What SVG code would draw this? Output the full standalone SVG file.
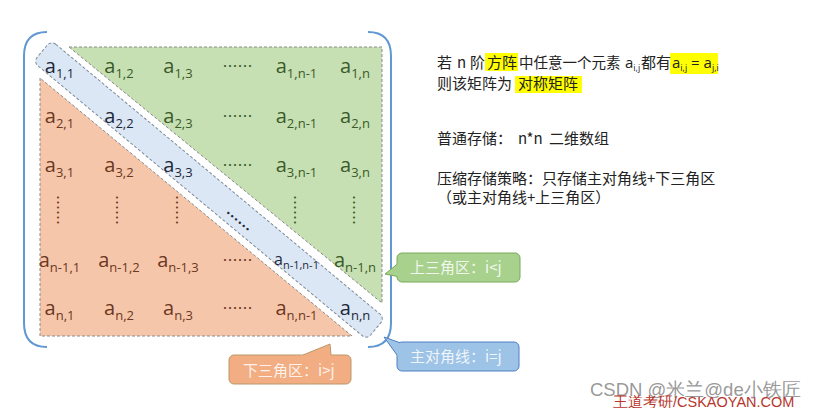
<svg xmlns="http://www.w3.org/2000/svg" width="815" height="408" viewBox="0 0 815 408">
<defs>
<style>
.m{font-family:"Open Sans","Noto Sans",sans-serif;font-size:20px;text-anchor:middle}
.s{font-size:13px}
.ms{font-size:16px}
.ss{font-size:11px}
.g{fill:#3b5a27}
.o{fill:#6b3822}
.b{fill:#1e2838}
.dots{font-family:"Noto Sans CJK SC",sans-serif;font-size:15px;text-anchor:middle}
.cn{font-family:"Noto Sans CJK SC",sans-serif;font-size:15px;fill:#222}
.la{font-family:"Open Sans","Noto Sans",sans-serif;font-size:15px;fill:#222}
.sub{font-size:9px}
.hl{fill:#ffff00}
.call{font-family:"Noto Sans CJK SC",sans-serif;font-size:15px;fill:#ffffff;fill-opacity:0.85}
.tri{stroke:#8a8a8a;stroke-width:1;stroke-dasharray:3 2}
.brk{fill:none;stroke:#5f98d2;stroke-width:2}
</style>
</defs>
<rect x="0" y="0" width="815" height="408" fill="#ffffff"/>

<g id="bracket-left"><path class="brk" d="M47,32 Q24,32 24,56 L24,323 Q24,347 47,347"/></g>
<g id="bracket-right"><path class="brk" d="M368,32 Q391,32 391,56 L391,323 Q391,347 368,347"/></g>

<g id="upper-triangle">
<polygon class="tri" points="69,47 382,47 382,303" fill="#c6e0b4"/>
<text class="m g" x="119" y="73">a<tspan class="s" dy="5">1,2</tspan></text>
<text class="m g" x="178" y="73">a<tspan class="s" dy="5">1,3</tspan></text>
<text class="dots g" x="237.5" y="71.7">……</text>
<text class="m g" x="296.5" y="73">a<tspan class="s" dy="5">1,n-1</tspan></text>
<text class="m g" x="355" y="73">a<tspan class="s" dy="5">1,n</tspan></text>
<text class="m g" x="178" y="123">a<tspan class="s" dy="5">2,3</tspan></text>
<text class="dots g" x="237.5" y="121.7">……</text>
<text class="m g" x="296.5" y="123">a<tspan class="s" dy="5">2,n-1</tspan></text>
<text class="m g" x="355" y="123">a<tspan class="s" dy="5">2,n</tspan></text>
<text class="dots g" x="237.5" y="170.7">……</text>
<text class="m g" x="296.5" y="172">a<tspan class="s" dy="5">3,n-1</tspan></text>
<text class="m g" x="355" y="172">a<tspan class="s" dy="5">3,n</tspan></text>
<text class="dots g" transform="translate(295,210) rotate(90)" x="0" y="5.7">……</text>
<text class="dots g" transform="translate(354,210) rotate(90)" x="0" y="5.7">……</text>
<text class="m g" x="355" y="267">a<tspan class="s" dy="5">n-1,n</tspan></text>
</g>

<g id="lower-triangle">
<polygon class="tri" points="40,78 40,336 352,336" fill="#f6c6aa"/>
<text class="m o" x="59.5" y="123">a<tspan class="s" dy="5">2,1</tspan></text>
<text class="m o" x="59.5" y="172">a<tspan class="s" dy="5">3,1</tspan></text>
<text class="m o" x="119" y="172">a<tspan class="s" dy="5">3,2</tspan></text>
<text class="dots o" transform="translate(58,210) rotate(90)" x="0" y="5.7">……</text>
<text class="dots o" transform="translate(117,210) rotate(90)" x="0" y="5.7">……</text>
<text class="dots o" transform="translate(177,210) rotate(90)" x="0" y="5.7">……</text>
<text class="m o" x="59.5" y="267">a<tspan class="s" dy="5">n-1,1</tspan></text>
<text class="m o" x="119" y="267">a<tspan class="s" dy="5">n-1,2</tspan></text>
<text class="m o" x="178" y="267">a<tspan class="s" dy="5">n-1,3</tspan></text>
<text class="dots o" x="237.5" y="265.7">……</text>
<text class="m o" x="59.5" y="315">a<tspan class="s" dy="5">n,1</tspan></text>
<text class="m o" x="119" y="315">a<tspan class="s" dy="5">n,2</tspan></text>
<text class="m o" x="178" y="315">a<tspan class="s" dy="5">n,3</tspan></text>
<text class="dots o" x="237.5" y="313.7">……</text>
<text class="m o" x="296.5" y="315">a<tspan class="s" dy="5">n,n-1</tspan></text>
</g>

<g id="main-diagonal">
<rect x="-217" y="-14" width="434" height="28" rx="6" transform="translate(209,190) rotate(39.77)" fill="#dbe7f4" stroke="#7c8a9c" stroke-width="1" stroke-dasharray="3 2"/>
<text class="m b" x="59.5" y="73">a<tspan class="s" dy="5">1,1</tspan></text>
<text class="m b" x="119" y="123">a<tspan class="s" dy="5">2,2</tspan></text>
<text class="m b" x="178" y="172">a<tspan class="s" dy="5">3,3</tspan></text>
<text class="dots b" font-weight="bold" transform="translate(238,221) rotate(39.77)" x="0" y="5.7">……</text>
<text class="m b ms" x="296.5" y="265">a<tspan class="ss" dy="4">n-1,n-1</tspan></text>
<text class="m b" x="355" y="315">a<tspan class="s" dy="5">n,n</tspan></text>
</g>

<g id="definition">
<rect class="hl" x="485" y="53" width="33" height="18"/>
<rect class="hl" x="670" y="53" width="48" height="21"/>
<rect class="hl" x="515" y="76" width="67" height="17"/>
<text class="cn" y="68"><tspan x="437">若</tspan><tspan x="457">n</tspan><tspan x="470">阶</tspan><tspan x="487">方阵</tspan><tspan x="519" font-size="14.5">中任意一个元素</tspan></text>
<text class="la" x="625" y="68">a<tspan class="sub" dy="3">i,j</tspan></text>
<text class="cn" x="641" y="68" font-size="14.5">都有</text>
<text class="la" x="672" y="68">a<tspan class="sub" dy="3">i,j</tspan><tspan dy="-3"> = a</tspan><tspan class="sub" dy="3">j,i</tspan></text>
<text class="cn" y="89"><tspan x="437">则该矩阵为</tspan><tspan x="518">对称矩阵</tspan></text>
</g>

<g id="storage-notes">
<text class="cn" y="144"><tspan x="437">普通存储：</tspan><tspan x="518">n*n</tspan><tspan x="549">二维数组</tspan></text>
<text class="cn" x="437" y="184">压缩存储策略：只存储主对角线+下三角区</text>
<text class="cn" x="437" y="203">（或主对角线+上三角区）</text>
</g>

<g id="callout-upper">
<rect x="397" y="253" width="123" height="29" rx="5" fill="#a9d18e" stroke="#7aa95a" stroke-width="1"/>
<text class="call" x="410" y="273">上三角区：i&lt;j</text>
</g>
<g id="callout-diagonal">
<rect x="397" y="342" width="122" height="29" rx="5" fill="#9dc3e6" stroke="#4f7fc0" stroke-width="1"/>
<text class="call" x="410" y="362">主对角线：i=j</text>
</g>
<g id="callout-lower">
<rect x="229" y="355" width="122" height="29" rx="5" fill="#f2ad82" stroke="#b9996a" stroke-width="1"/>
<text class="call" x="243" y="376">下三角区：i&gt;j</text>
</g>

<g id="connectors">
<polygon points="400,262 385,274 400,277" fill="#a9d18e"/>
<polyline points="397,264.4 385,274 397,276.4" fill="none" stroke="#7aa95a" stroke-width="1"/>
<polygon points="384,337 403,344 403,357 397.5,356" fill="#9dc3e6"/>
<polyline points="400,342.8 384,337 397,355" fill="none" stroke="#4f7fc0" stroke-width="1"/>
<polygon points="298,357 330,344 331.2,357" fill="#f2ad82"/>
<polyline points="303,355 330,344 331,355" fill="none" stroke="#b9996a" stroke-width="1"/>
</g>

<g id="watermark">
<text x="590" y="395.5" font-family="Liberation Sans, sans-serif" font-size="18.5" fill="#8c8c8c" fill-opacity="0.9">CSDN @米兰@de小铁匠</text>
<text x="613" y="406.5" font-family="Liberation Sans, sans-serif" font-size="14.5" fill="#b8352c">王道考研/CSKAOYAN.COM</text>
</g>
</svg>
